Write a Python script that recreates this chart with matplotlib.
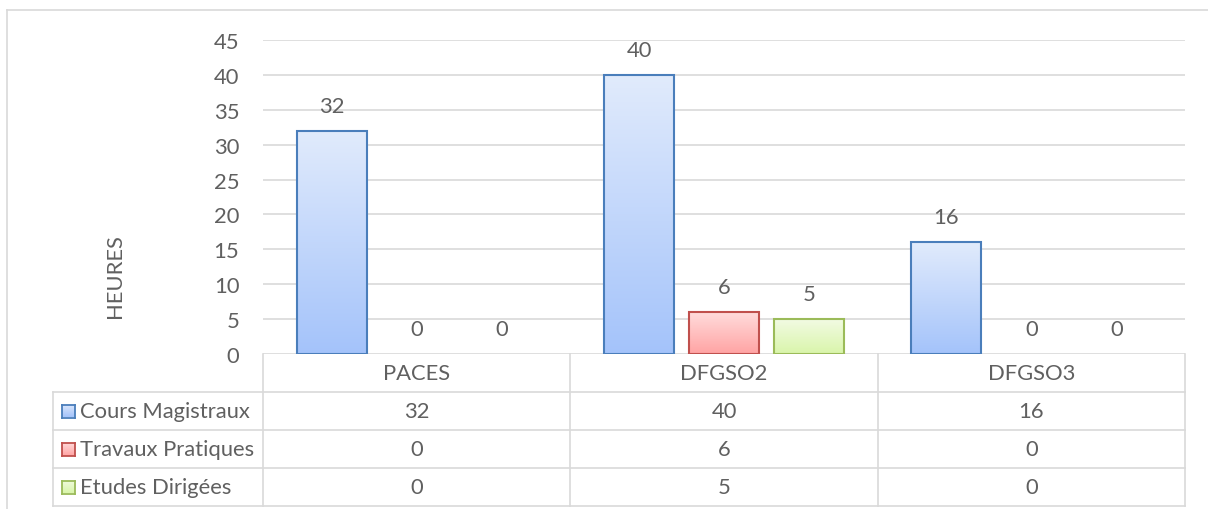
import matplotlib
matplotlib.use("Agg")
import matplotlib.pyplot as plt
import numpy as np
from matplotlib.lines import Line2D
from matplotlib.colors import LinearSegmentedColormap

categories = ["PACES", "DFGSO2", "DFGSO3"]
series_names = ["Cours Magistraux", "Travaux Pratiques", "Etudes Dirigées"]
cours = [32, 40, 16]
travaux = [0, 6, 0]
etudes = [0, 5, 0]
values = [cours, travaux, etudes]
yticks = [0, 5, 10, 15, 20, 25, 30, 35, 40, 45]
ylabel = "HEURES"

edge_cols = ["#4a7ebb", "#c0504d", "#9bbb59"]
top_cols = ["#e1ebfc", "#ffdcdc", "#f2fbe3"]
bot_cols = ["#a4c3fa", "#ffa3a3", "#d9f5aa"]
grid_col = "#d9d9d9"
text_col = "#606060"
FONT = "Lato"
FS = 15.8
plt.rcParams['font.family'] = [FONT, 'DejaVu Sans']

W, H = 1208, 510
fig = plt.figure(figsize=(W / 100, H / 100), dpi=100)

def fx(px):
    return px / W

def fy(py):
    return 1 - py / H

L, R, T, B = 263, 1185, 41, 355
ax = fig.add_axes([fx(L), fy(B), fx(R) - fx(L), fy(T) - fy(B)])
n_cat = len(categories)
for s in ax.spines.values():
    s.set_visible(False)
ax.set_xticks([])
ax.set_yticks(yticks)
ax.tick_params(axis='y', length=0, pad=17, labelsize=FS, labelcolor=text_col)
for yv in yticks:
    ax.axhline(yv, color=grid_col, lw=1.2, zorder=0)

bw = 70 / 307.33
step = 85 / 307.33
for si, (vals, name) in enumerate(zip(values, series_names)):
    cmap = LinearSegmentedColormap.from_list("g%d" % si, [bot_cols[si], top_cols[si]])
    grad = np.linspace(0, 1, 256).reshape(-1, 1)
    for ci, v in enumerate(vals):
        xc = ci + 0.5 + (si - 1) * step
        x0 = xc - bw / 2
        if v > 0:
            ax.imshow(grad, cmap=cmap, origin='lower', aspect='auto',
                      extent=(x0, x0 + bw, 0, v), zorder=2, interpolation='bilinear')
            ax.bar(xc, v, width=bw, facecolor='none', edgecolor=edge_cols[si], lw=1.5, zorder=3)
        ax.annotate(str(v), (xc, v), xytext=(0, 18), textcoords='offset points',
                    ha='center', va='center', fontsize=FS, color=text_col)
ax.set_xlim(0, n_cat)
ax.set_ylim(0, 45)

fig.text(fx(115), fy(276), ylabel, rotation=90, ha='center', va='center',
         fontsize=FS, color=text_col)

# outer chart border
fig.add_artist(Line2D([fx(7), fx(7)], [fy(11), fy(512)], color=grid_col, lw=1.2))
fig.add_artist(Line2D([fx(7), fx(1210)], [fy(11), fy(11)], color=grid_col, lw=1.2))

# data table
col_edges = [L + (R - L) * i / n_cat for i in range(n_cat + 1)]
row_edges = [393, 431, 469, 507]
legend_left = 53
for xe in col_edges:
    fig.add_artist(Line2D([fx(xe), fx(xe)], [fy(B), fy(507)], color=grid_col, lw=1.2))
fig.add_artist(Line2D([fx(legend_left), fx(legend_left)], [fy(393), fy(507)], color=grid_col, lw=1.2))
for ye in row_edges:
    fig.add_artist(Line2D([fx(legend_left), fx(R)], [fy(ye), fy(ye)], color=grid_col, lw=1.2))

for ci, cat in enumerate(categories):
    xc = (col_edges[ci] + col_edges[ci + 1]) / 2
    fig.text(fx(xc), fy((B + 393) / 2), cat, ha='center', va='center', fontsize=FS, color=text_col)

for si, (vals, name) in enumerate(zip(values, series_names)):
    yc = (row_edges[si] + row_edges[si + 1]) / 2
    cmap = LinearSegmentedColormap.from_list("h%d" % si, [bot_cols[si], top_cols[si]])
    sax = fig.add_axes([fx(62), fy(yc + 6.5), fx(13), fy(yc - 6.5) - fy(yc + 6.5)])
    sax.imshow(np.linspace(0, 1, 64).reshape(-1, 1), cmap=cmap, origin='lower', aspect='auto',
               extent=(0, 1, 0, 1))
    for s in sax.spines.values():
        s.set_color(edge_cols[si])
        s.set_linewidth(1.3)
    sax.set_xticks([])
    sax.set_yticks([])
    fig.text(fx(80), fy(yc), name, ha='left', va='center', fontsize=FS, color=text_col)
    for ci, v in enumerate(vals):
        xc = (col_edges[ci] + col_edges[ci + 1]) / 2
        fig.text(fx(xc), fy(yc), str(v), ha='center', va='center', fontsize=FS, color=text_col)

fig.savefig("out.png", dpi=100, facecolor='white')
